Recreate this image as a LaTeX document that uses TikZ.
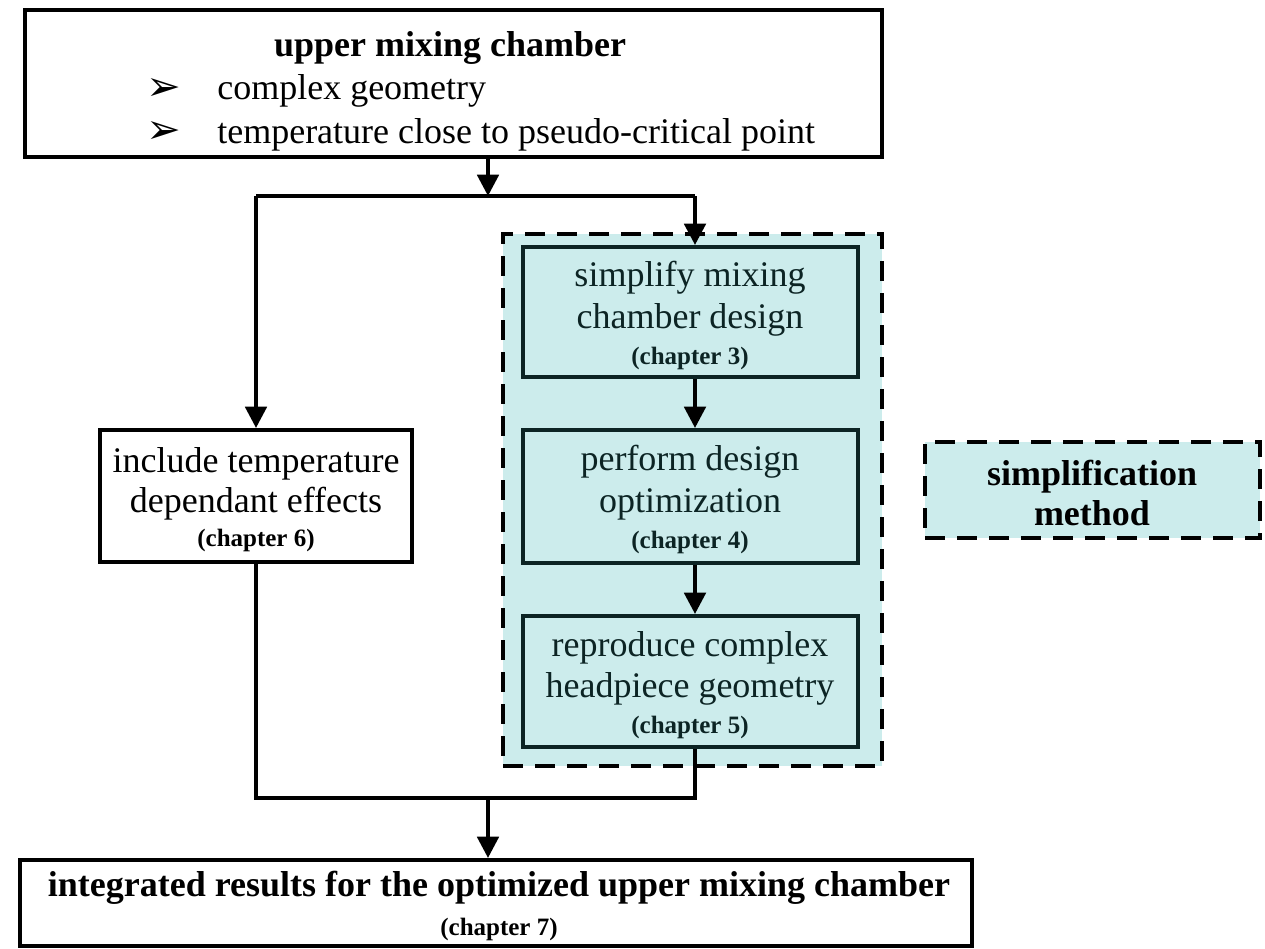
\documentclass[tikz,border=0pt]{standalone}
\usepackage{fontspec}
\setmainfont{Liberation Serif}
\newfontfamily\symfont{DejaVu Sans}
\usetikzlibrary{arrows.meta,fit}
\definecolor{teallight}{RGB}{204,236,236}
\definecolor{tealdark}{RGB}{12,36,36}
\begin{document}
\begin{tikzpicture}[x=0.75pt,y=-0.75pt,
  frame/.style={draw=black, line width=3pt, inner sep=0pt},
  stepbox/.style={draw=tealdark, fill=teallight, line width=3pt, inner sep=0pt},
  dashfrm/.style={draw=black, fill=teallight, line width=3.5pt, dash pattern=on 15pt off 9pt, inner sep=0pt},
  conn/.style={line width=3pt, draw=black},
  arr/.style={conn, -{Triangle[length=16pt,width=16pt]}},
  big/.style={font=\fontsize{27}{31}\selectfont},
  bigb/.style={font=\fontsize{27}{31}\selectfont\bfseries},
  chap/.style={font=\fontsize{18.75}{22}\selectfont\bfseries},
  bullet/.style={anchor=base west, inner sep=0pt, font=\fontsize{31}{31}\symfont},
  txt/.style={anchor=base, inner sep=0pt},
]
\useasboundingbox (0,0) rectangle (1265,949);

% top box: problem statement
\node[frame, fit={(25,10) (882,157)}] (top) {};
\node[txt,bigb] (toptitle) at (450,57) {upper mixing chamber};
\node[bullet] (b1) at (146,101) {➢};
\node[txt,big,anchor=base west] (t1) at (217,100) {complex geometry};
\node[bullet] (b2) at (146,144) {➢};
\node[txt,big,anchor=base west] (t2) at (217,143) {temperature close to pseudo-critical point};

% dashed group: simplification method
\node[dashfrm, fit={(503,234) (882,766)}] (group) {};
\node[stepbox, fit={(523,247) (858,377)}] (s1) {};
\node[stepbox, fit={(523,430) (858,563)}] (s2) {};
\node[stepbox, fit={(523,616) (858,747)}] (s3) {};
\begin{scope}[every node/.append style={text=tealdark}]
\node[txt,big] (s1a) at (690,286) {simplify mixing};
\node[txt,big] (s1b) at (690,328) {chamber design};
\node[txt,chap] (s1c) at (690,364) {(chapter 3)};
\node[txt,big] (s2a) at (690,470) {perform design};
\node[txt,big] (s2b) at (690,512) {optimization};
\node[txt,chap] (s2c) at (690,548) {(chapter 4)};
\node[txt,big] (s3a) at (690,656) {reproduce complex};
\node[txt,big] (s3b) at (690,697) {headpiece geometry};
\node[txt,chap] (s3c) at (690,733) {(chapter 5)};
\end{scope}

% left branch box
\node[frame, fit={(100,430) (412,562)}] (left) {};
\node[txt,big] (la) at (256,472) {include temperature};
\node[txt,big] (lb) at (256,512) {dependant effects};
\node[txt,chap] (lc) at (256,546) {(chapter 6)};

% legend
\node[dashfrm, fit={(925,442) (1260,538)}] (legend) {};
\node[txt,bigb] (lg1) at (1092,485) {simplification};
\node[txt,bigb] (lg2) at (1092,525) {method};

% bottom box: result
\node[frame, fit={(20,860) (972,946)}] (bot) {};
\node[txt,bigb] (bt) at (499,896) {integrated results for the optimized upper mixing chamber};
\node[txt,chap] (bc) at (499,935) {(chapter 7)};

% connectors
\coordinate (split) at (488,196);
\coordinate (splitL) at (256,196);
\coordinate (splitR) at (695,196);
\coordinate (merge) at (488,798);
\coordinate (mergeL) at (256,798);
\coordinate (mergeR) at (695,798);

\draw[arr] (top.south -| split) -- (split);
\draw[conn] (splitL) -- (splitR);
\draw[arr] (splitL) -- (left.north -| splitL);
\draw[arr] (splitR) -- (s1.north -| splitR);
\draw[arr] (s1.south -| splitR) -- (s2.north -| splitR);
\draw[arr] (s2.south -| splitR) -- (s3.north -| splitR);
\draw[conn] (left.south -| mergeL) -- (mergeL) -- (mergeR) -- (s3.south -| mergeR);
\draw[arr] (merge) -- (bot.north -| merge);
\end{tikzpicture}
\end{document}
